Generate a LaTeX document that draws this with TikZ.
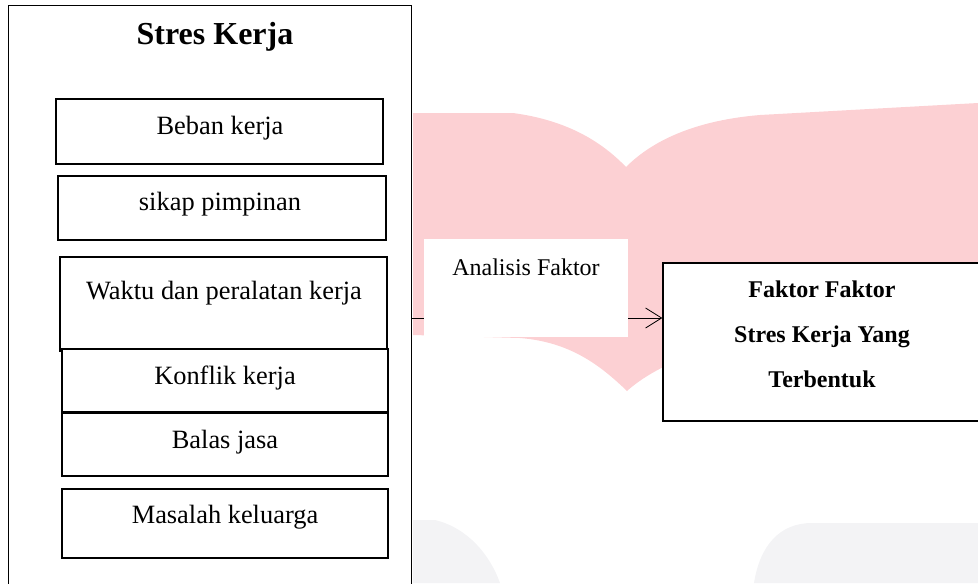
\documentclass[tikz,border=0pt]{standalone}
\usepackage{fontspec}
\setmainfont{Liberation Serif}
\usetikzlibrary{fit,arrows.meta}
\definecolor{wmpink}{RGB}{252,208,211}
\definecolor{wmgray}{RGB}{243,243,245}
\begin{document}
\begin{tikzpicture}[x=0.75pt,y=-0.75pt,
  outerbox/.style={draw, line width=0.7pt, inner sep=0pt},
  itembox/.style={draw, line width=1.1pt, inner sep=0pt, fill=white},
  itemtext/.style={font=\fontsize{19.8}{24}\selectfont, inner sep=0pt},
  titletext/.style={font=\fontsize{24}{28}\selectfont\bfseries, inner sep=0pt},
  labelbox/.style={fill=white, inner sep=0pt},
  labeltext/.style={font=\fontsize{18}{22}\selectfont, inner sep=0pt},
  resbox/.style={draw, line width=1pt, inner sep=0pt, fill=white},
  restext/.style={font=\fontsize{18}{33.75}\selectfont\bfseries, align=center, inner sep=0pt},
  flow/.style={line width=0.6pt, -{Straight Barb[length=12pt,width=15pt]}}]
\useasboundingbox (0,0) rectangle (978,583);
% watermark
\fill[wmpink] (413,113) -- (513,113) .. controls (565,120) and (600,140) .. (626,167)
  .. controls (655,138) and (700,120) .. (760,115) -- (978,103) -- (978,335) -- (760,340)
  .. controls (700,345) and (650,370) .. (627,391)
  .. controls (600,365) and (570,342) .. (520,338) -- (413,335) -- cycle;
\fill[wmgray] (413,520) -- (435,520) .. controls (468,528) and (490,555) .. (500,583) -- (413,583) -- cycle;
\fill[wmgray] (754,583) .. controls (760,545) and (780,523) .. (812,523) -- (978,523) -- (978,583) -- cycle;
% left group
\node[outerbox, fit={(8,5)(411,600)}] (outer) {};
\node[titletext] (title) at (215,37) {Stres Kerja};
\node[itembox, fit={(56,99)(383,164)}] (b1) {};
\node[itemtext] (t1) at (220,128) {Beban kerja};
\node[itembox, fit={(58,176)(386,240)}] (b2) {};
\node[itemtext] (t2) at (220,204) {sikap pimpinan};
\node[itembox, fit={(60,257)(387,351)}] (b3) {};
\node[itemtext] (t3) at (224,293) {Waktu dan peralatan kerja};
\node[itembox, fit={(62,349)(388,412)}] (b4) {};
\node[itemtext] (t4) at (225,378) {Konflik kerja};
\node[itembox, fit={(62,413)(388,476)}] (b5) {};
\node[itemtext] (t5) at (225,442) {Balas jasa};
\node[itembox, fit={(62,489)(388,558)}] (b6) {};
\node[itemtext] (t6) at (225,517) {Masalah keluarga};
% result
\node[resbox, fit={(663,263)(992,421)}] (res) {};
\node[restext] (rest) at (822,334) {Faktor Faktor\\Stres Kerja Yang\\Terbentuk};
% arrow and label
\coordinate (ay) at (0,318);
\draw[flow] (outer.east |- ay) -- (res.west |- ay);
\node[labelbox, fit={(424,239)(628,337)}] (lab) {};
\node[labeltext] (labt) at (526,267) {Analisis Faktor};
\end{tikzpicture}
\end{document}
